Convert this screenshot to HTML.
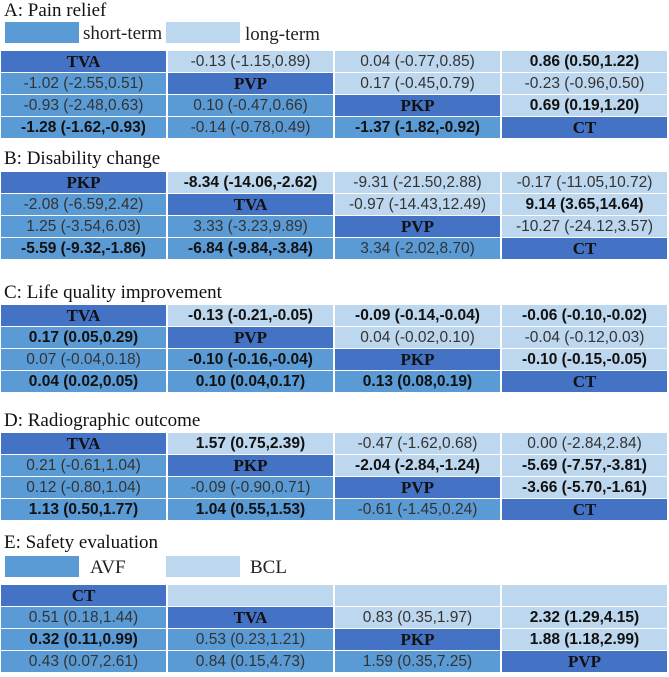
<!DOCTYPE html>
<html><head><meta charset="utf-8">
<style>
body{margin:0;background:#fff;width:669px;height:677px;position:relative;overflow:hidden;font-family:"Liberation Sans",sans-serif}
.t{position:absolute;left:4px;font-family:"Liberation Serif",serif;font-size:19px;color:#111;line-height:20px;white-space:nowrap}
.box{position:absolute;width:74px;height:21px}
.lt{position:absolute;font-family:"Liberation Serif",serif;font-size:19px;color:#222;line-height:20px}
.c{position:absolute;height:21px;line-height:21px;text-align:center;font-size:15.5px;color:#333;white-space:nowrap;overflow:hidden}
.d{background:#4472c4;color:#111;font-family:"Liberation Serif",serif;font-weight:bold;font-size:17px}
.l{background:#5b9bd5}
.u{background:#bdd7ee}
.b{font-weight:bold;color:#111}
</style></head><body>
<div class="t" style="top:1px">A: Pain relief</div>
<div class="box l" style="left:5px;top:22px"></div>
<div class="lt" style="left:83px;top:24px">short-term</div>
<div class="box u" style="left:166px;top:22px"></div>
<div class="lt" style="left:245px;top:25px">long-term</div>
<div class="t" style="top:149px">B: Disability change</div>
<div class="t" style="top:283px">C: Life quality improvement</div>
<div class="t" style="top:411px">D: Radiographic outcome</div>
<div class="t" style="top:533px">E: Safety evaluation</div>
<div class="box l" style="left:5px;top:556px"></div>
<div class="lt" style="left:90px;top:558px">AVF</div>
<div class="box u" style="left:166px;top:556px"></div>
<div class="lt" style="left:250px;top:558px">BCL</div>
<script>
const tableA = [
 ["TVA","-0.13 (-1.15,0.89)","0.04 (-0.77,0.85)","*0.86 (0.50,1.22)"],
 ["-1.02 (-2.55,0.51)","PVP","0.17 (-0.45,0.79)","-0.23 (-0.96,0.50)"],
 ["-0.93 (-2.48,0.63)","0.10 (-0.47,0.66)","PKP","*0.69 (0.19,1.20)"],
 ["*-1.28 (-1.62,-0.93)","-0.14 (-0.78,0.49)","*-1.37 (-1.82,-0.92)","CT"]];
const tableB = [
 ["PKP","*-8.34 (-14.06,-2.62)","-9.31 (-21.50,2.88)","-0.17 (-11.05,10.72)"],
 ["-2.08 (-6.59,2.42)","TVA","-0.97 (-14.43,12.49)","*9.14 (3.65,14.64)"],
 ["1.25 (-3.54,6.03)","3.33 (-3.23,9.89)","PVP","-10.27 (-24.12,3.57)"],
 ["*-5.59 (-9.32,-1.86)","*-6.84 (-9.84,-3.84)","3.34 (-2.02,8.70)","CT"]];
const tableC = [
 ["TVA","*-0.13 (-0.21,-0.05)","*-0.09 (-0.14,-0.04)","*-0.06 (-0.10,-0.02)"],
 ["*0.17 (0.05,0.29)","PVP","0.04 (-0.02,0.10)","-0.04 (-0.12,0.03)"],
 ["0.07 (-0.04,0.18)","*-0.10 (-0.16,-0.04)","PKP","*-0.10 (-0.15,-0.05)"],
 ["*0.04 (0.02,0.05)","*0.10 (0.04,0.17)","*0.13 (0.08,0.19)","CT"]];
const tableD = [
 ["TVA","*1.57 (0.75,2.39)","-0.47 (-1.62,0.68)","0.00 (-2.84,2.84)"],
 ["0.21 (-0.61,1.04)","PKP","*-2.04 (-2.84,-1.24)","*-5.69 (-7.57,-3.81)"],
 ["0.12 (-0.80,1.04)","-0.09 (-0.90,0.71)","PVP","*-3.66 (-5.70,-1.61)"],
 ["*1.13 (0.50,1.77)","*1.04 (0.55,1.53)","-0.61 (-1.45,0.24)","CT"]];
const tableE = [
 ["CT","","",""],
 ["0.51 (0.18,1.44)","TVA","0.83 (0.35,1.97)","*2.32 (1.29,4.15)"],
 ["*0.32 (0.11,0.99)","0.53 (0.23,1.21)","PKP","*1.88 (1.18,2.99)"],
 ["0.43 (0.07,2.61)","0.84 (0.15,4.73)","1.59 (0.35,7.25)","PVP"]];
const tables=[[tableA,51,"a"],[tableB,172,"b"],[tableC,305,"c"],[tableD,433,"d"],[tableE,585,"e"]];
const colX=[1,168,335,502];
tables.forEach(function(t){
  t[0].forEach(function(row,r){
    row.forEach(function(v,c){
      const el=document.createElement('div');
      let cls = r===c ? 'd' : (c>r ? 'u' : 'l');
      let txt=v;
      if(txt.charAt(0)==='*'){txt=txt.slice(1);cls+=' b';}
      el.className='c '+cls;
      el.style.left=colX[c]+'px';
      el.style.width='165px';
      el.style.top=(t[1]+r*22)+'px';
      el.textContent=txt;
      
      
      document.body.appendChild(el);
    });
  });
});
</script>
</body></html>
